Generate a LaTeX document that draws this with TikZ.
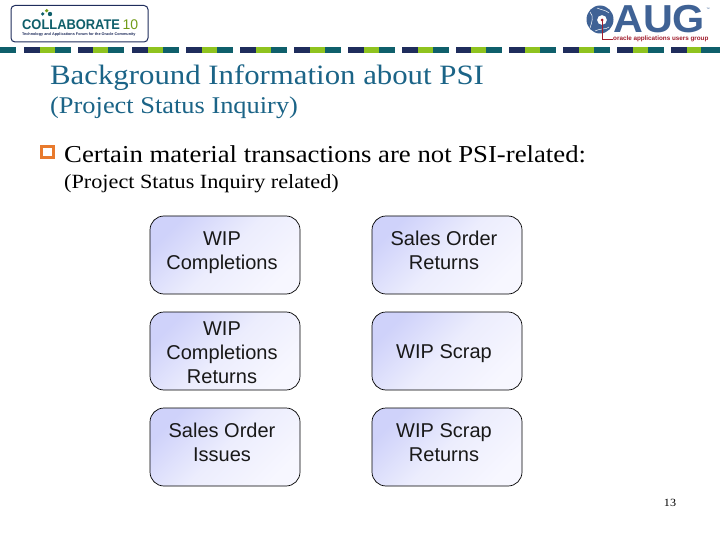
\documentclass[tikz,border=0pt]{standalone}
\usepackage{fontspec}
\setmainfont[FakeStretch=1.1]{Liberation Serif}
\newfontfamily\boxfont{Liberation Sans}
\definecolor{navy}{HTML}{1F2D5C}
\definecolor{lime}{HTML}{8FC31F}
\definecolor{tealb}{HTML}{0F5F6B}
\definecolor{titlec}{HTML}{1B6487}
\definecolor{oaug}{HTML}{3F6295}
\definecolor{bulletc}{HTML}{E87A2D}
\definecolor{cardA}{HTML}{CFD2FA}
\definecolor{cardB}{HTML}{ECEDFD}
\definecolor{cardC}{HTML}{F7F7FF}
\definecolor{redline}{HTML}{A01C2C}
\tikzset{
  card/.style={draw=black,line width=0.7pt,rounded corners=14pt,minimum width=150pt,minimum height=78pt,
    align=center,inner sep=0pt,left color=cardA,right color=cardC,middle color=cardB,shading angle=45,
    font=\boxfont\fontsize{20}{24}\selectfont,text=black!90}
}
\newcommand{\stripe}[1]{%
  \fill[navy] (#1,47) rectangle ++(15.5,6);
  \fill[lime] (#1+15.5,47) rectangle ++(15,6);
  \fill[tealb] (#1+30.5,47) rectangle ++(16,6);}
\newcommand{\cardtxt}[2]{\hspace*{-6pt}\smash{\raisebox{#1}{\begin{tabular}[c]{@{}c@{}}#2\end{tabular}}}}
\begin{document}
\begin{tikzpicture}[x=1pt,y=-1pt]
\useasboundingbox (0,0) rectangle (720,540);
\fill[white] (0,0) rectangle (720,540);
% stripe
\fill[tealb] (0,47) rectangle (16,53);
\foreach \s in {24,77.5,132,186,240,294,348,402,455.5,509,563,617,671}{\stripe{\s}}
\fill[tealb] (701,47) rectangle (720,53);
% Collaborate logo
\draw[navy,line width=1pt,rounded corners=4pt] (11,5.5) rectangle (148,42);
\fill[tealb] (42.7,14) circle (1.8);
\fill[lime!80!black] (46.7,10.7) circle (1.8);
\fill[tealb] (50,14) circle (2.2);
\node[font=\boxfont\bfseries\fontsize{14}{14}\selectfont,text=tealb,inner sep=0pt,anchor=west] (collab) at (22,25) {\scalebox{0.92}[1]{COLLABORATE}};
\node[font=\boxfont\fontsize{14}{14}\selectfont,text=lime!80!black,inner sep=0pt,anchor=west] (ten) at (122.5,25) {10};
\node[font=\boxfont\bfseries\fontsize{3.8}{4}\selectfont,text=navy,inner sep=0pt,anchor=west] (tag) at (22,35) {Technology and Applications Forum for the Oracle Community};
% OAUG logo
\fill[oaug,even odd rule] (600,19.5) ellipse (13.5 and 14) (602,20) circle (5);
\draw[white,line width=0.5pt] (590,12) .. controls (594,16) and (592,22) .. (590,28);
\draw[white,line width=0.5pt] (597,8) .. controls (601,10) and (606,10) .. (609,13);
\draw[white,line width=0.5pt] (595,31) .. controls (600,28) and (606,30) .. (609,27);
\node[font=\boxfont\bfseries\fontsize{39}{39}\selectfont,text=oaug,inner sep=0pt,anchor=west] (aug) at (613,19.5) {\scalebox{1.06}[1]{AUG}};
\draw[redline,line width=0.7pt] (602,20) -- (602,39) -- (613,39);
\fill[redline] (602,20) circle (1.5);
\node[font=\boxfont\bfseries\fontsize{6.3}{7}\selectfont,text=redline,inner sep=0pt,anchor=west] (oautext) at (613,39) {oracle applications users group};
\node[font=\boxfont\fontsize{3.5}{4}\selectfont,text=oaug,inner sep=0pt] (tm) at (708,9) {™};
% titles
\node[anchor=base west,inner sep=0pt,font=\fontsize{28}{30}\selectfont,text=titlec] (t1) at (50,85) {Background Information about PSI};
\node[anchor=base west,inner sep=0pt,font=\fontsize{24}{26}\selectfont,text=titlec] (t2) at (50,114) {(Project Status Inquiry)};
% bullet
\draw[bulletc,line width=3pt] (41.5,146.5) rectangle (53,158);
\node[anchor=base west,inner sep=0pt,font=\fontsize{24.3}{28}\selectfont] (b1) at (64,162.5) {Certain material transactions are not PSI-related:};
\node[anchor=base west,inner sep=0pt,font=\fontsize{20.2}{22}\selectfont] (b2) at (64,188.5) {(Project Status Inquiry related)};
% cards
\node[card] (a) at (225,255) {\cardtxt{-3pt}{WIP\\Completions}};
\node[card] (b) at (447,255) {\cardtxt{-3pt}{Sales Order\\Returns}};
\node[card] (c) at (225,351) {\cardtxt{-9pt}{WIP\\Completions\\Returns}};
\node[card] (d) at (447,351) {\cardtxt{-8pt}{WIP Scrap}};
\node[card] (e) at (225,447) {\cardtxt{-3pt}{Sales Order\\Issues}};
\node[card] (f) at (447,447) {\cardtxt{-3pt}{WIP Scrap\\Returns}};
\node[font=\fontsize{11}{12}\selectfont,inner sep=0pt] (pg) at (670,503) {13};
\end{tikzpicture}
\end{document}
